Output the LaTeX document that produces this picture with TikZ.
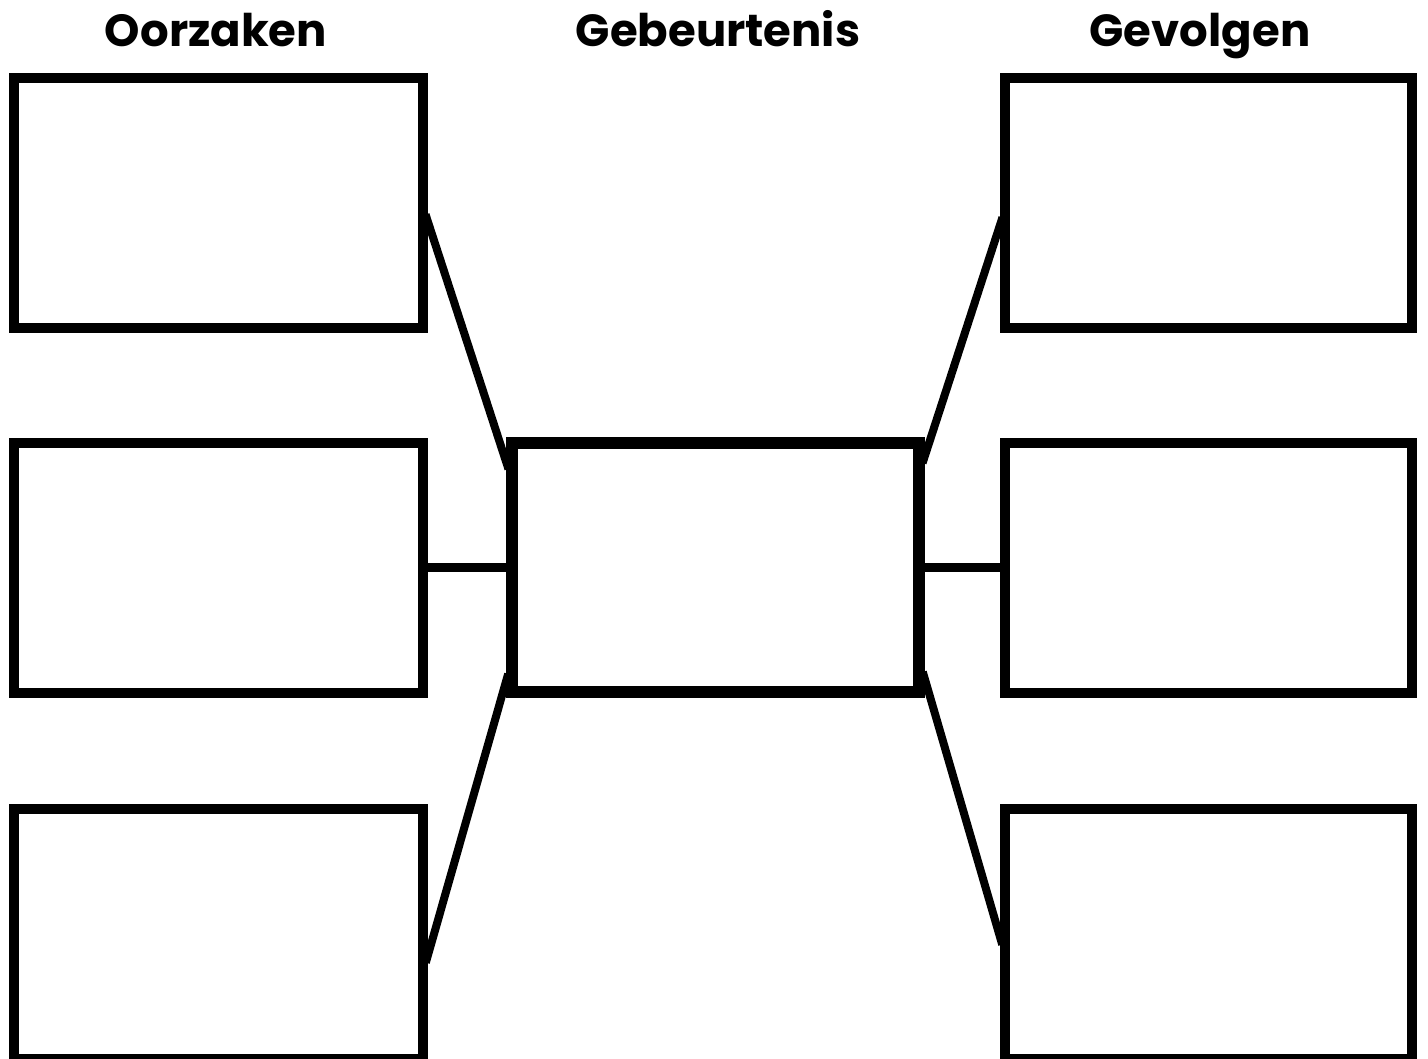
\documentclass[tikz,border=0pt]{standalone}
\usepackage{fontspec}
\setmainfont{Poppins}
\usetikzlibrary{backgrounds}
\begin{document}
\begin{tikzpicture}[x=1pt,y=-1pt,
  box/.style={draw=black,line width=10pt,fill=white,rectangle,inner sep=0pt,minimum width=409pt,minimum height=250pt},
  midbox/.style={draw=black,line width=12pt,fill=white,rectangle,inner sep=0pt,minimum width=407pt,minimum height=249pt},
  link/.style={draw=black,line width=8pt,shorten <=-8pt,shorten >=-8pt},
  hlink/.style={draw=black,line width=9pt},
  title/.style={font=\fontsize{45}{50}\selectfont\bfseries,anchor=base,inner sep=0pt}]
\useasboundingbox (0,0) rectangle (1428,1059);
\node[title] (t1) at (216,47) {Oorzaken};
\node[title] (t2) at (718,47) {Gebeurtenis};
\node[title] (t3) at (1200,47) {Gevolgen};
\node[box] (lb1) at (218.5,203) {};
\node[box] (lb2) at (218.5,567.5) {};
\node[box] (lb3) at (218.5,933.5) {};
\node[box,minimum width=407pt] (rb1) at (1208.5,203) {};
\node[box,minimum width=407pt] (rb2) at (1208.5,567.5) {};
\node[box,minimum width=407pt] (rb3) at (1208.5,933.5) {};
\node[midbox] (cb) at (715.5,567.5) {};
\begin{pgfonlayer}{background}
\fill[white] (0,0) rectangle (1428,1059);
\draw[link] ([yshift=-19pt]lb1.east) -- ([yshift=106pt]cb.west);
\draw[hlink] (lb2.east) -- (cb.west);
\draw[link] ([yshift=-21.5pt]lb3.east) -- ([yshift=-114pt]cb.west);
\draw[link] ([yshift=-22pt]rb1.west) -- ([yshift=112pt]cb.east);
\draw[hlink] (rb2.west) -- (cb.east);
\draw[link] ([yshift=-3.5pt]rb3.west) -- ([yshift=-112pt]cb.east);
\end{pgfonlayer}
\end{tikzpicture}
\end{document}
